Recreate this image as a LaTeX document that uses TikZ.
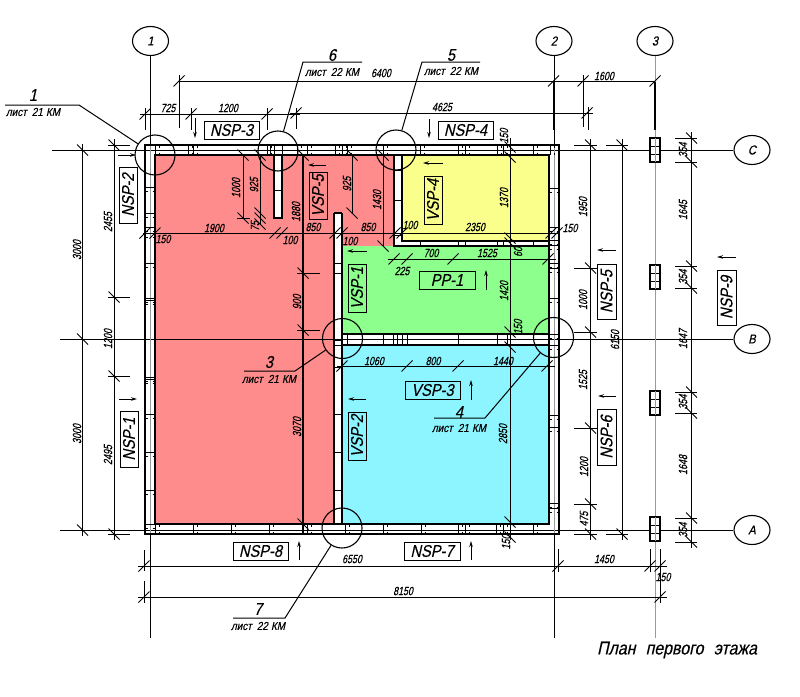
\documentclass[tikz,border=0pt]{standalone}
\usepackage{fontspec}
\usetikzlibrary{shapes.geometric,arrows.meta}
\newfontfamily\cadfont[FakeStretch=0.74,FakeSlant=0.22,FakeBold=0.25]{Liberation Sans}
\newfontfamily\cadwide[FakeStretch=0.86,FakeSlant=0.22,FakeBold=0.25]{Liberation Sans}
\definecolor{redz}{HTML}{FF8C8C}
\definecolor{yelz}{HTML}{FAFF8C}
\definecolor{grnz}{HTML}{8CFF8C}
\definecolor{bluz}{HTML}{8CF5FF}
\newcounter{labn}
\tikzset{
  x=1pt,y=-1pt,
  ln/.style={line width=1pt,black},
  thick dim/.style={line width=1.1pt,black},
  wall/.style={line width=1.1pt,black},
  stud/.style={line width=0.9pt,black},
  axisg/.style={line width=0.9pt,black!40},
  axisk/.style={line width=0.9pt,black},
  tickm/.style={line width=1pt,black},
  dimt/.style={font=\cadfont\fontsize{12}{12}\selectfont,inner sep=0pt,text=black},
  reft/.style={font=\cadwide\fontsize{17}{17}\selectfont,inner sep=0pt},
  shtt/.style={font=\cadwide\fontsize{11.5}{11.5}\selectfont,inner sep=0pt},
  bubble/.style={draw,ellipse,line width=1.1pt,minimum width=36pt,minimum height=29pt,inner sep=0pt,font=\cadwide\fontsize{13}{13}\selectfont},
  detail/.style={draw,circle,line width=1.1pt,minimum size=40pt,inner sep=0pt},
  panel/.style={draw,line width=1pt,fill=none,inner sep=0pt,font=\cadwide\fontsize{17}{17}\selectfont},
  arw/.style={line width=1pt,-{Stealth[length=6pt,width=3.5pt]}},
}
\newcommand\hdim[3]{\stepcounter{labn}\node[dimt] (d\thelabn) at (#1,#2) {#3};}
\newcommand\vdim[3]{\stepcounter{labn}\node[dimt,rotate=90] (d\thelabn) at (#1,#2) {#3};}
\newcommand\htk[2]{\draw[tickm] (#1-5.5,#2+5.5) -- (#1+5.5,#2-5.5);}
\newcommand\vtk[2]{\draw[tickm] (#1-5.5,#2-5.5) -- (#1+5.5,#2+5.5);}
\newcommand\hpanel[5]{\node[panel,minimum width=#3 pt,minimum height=#4 pt] (p#5) at (#1,#2) {#5};}
\newcommand\vpanel[5]{\node[panel,rotate=90,minimum width=#4 pt,minimum height=#3 pt] (p#5) at (#1,#2) {#5};}
\begin{document}
\begin{tikzpicture}
\useasboundingbox (0,0) rectangle (800,696);
\fill[white] (0,0) rectangle (800,696);
% colour zones
\fill[redz] (155,155) -- (394,155) -- (394,246) -- (342,246) -- (342,524) -- (155,524) -- cycle;
\fill[yelz] (402,155) rectangle (549,241);
\fill[grnz] (342,246) rectangle (549,334);
\fill[bluz] (342,345) rectangle (549,524);
% bubbles and axes
\node[bubble] (bC) at (752,150) {C};
\node[bubble] (bB) at (752,339) {B};
\node[bubble] (bA) at (752,530) {A};
\node[bubble] (b1) at (150.5,41) {1};
\node[bubble] (b2) at (554,41) {2};
\node[bubble] (b3) at (655,41) {3};
\coordinate (axC) at (52,150); \coordinate (axB) at (60,339); \coordinate (axA) at (60,530);
\coordinate (ax1) at (150.5,638); \coordinate (ax2) at (554,638); \coordinate (ax3) at (655,638);
% walls (white body)
\fill[white] (145,145) rectangle (155,534);
\fill[white] (145,145) rectangle (559,155);
\fill[white] (549,145) rectangle (559,534);
\fill[white] (145,524) rectangle (559,534);
\fill[white] (334,213) rectangle (342,534);
\fill[white] (342,334) rectangle (549,345);
\fill[white] (394,145) rectangle (402,246);
\fill[white] (394,241) rectangle (549,246);
\fill[white] (274,145) rectangle (282,218);
\draw[axisk] (axC) -- (bC);
\draw[axisk] (axB) -- (bB);
\draw[axisk] (axA) -- (bA);
\draw[axisg] (b1) -- (ax1);
\draw[axisg] (b2) -- (ax2);
\draw[axisg] (b3) -- (ax3);
\draw[axisk] (150.5,56) -- (150.5,145) (150.5,534) -- (ax1);
\draw[axisk] (554,145) -- (554,56) (554,534) -- (ax2);
\draw[thick dim,line width=1.3pt] (554,82) -- (554,130);
\draw[thick dim,line width=1.3pt] (655,82) -- (655,130);
% wall outlines
\draw[wall] (145,145) rectangle (559,534);
\draw[wall] (155,155) -- (155,524) -- (549,524) -- (549,155) -- cycle;
\draw[wall] (334,213) -- (334,524);
\draw[wall] (342,213) -- (342,524);
\draw[wall] (334,213) -- (342,213);
\draw[wall] (342,334) -- (549,334) (342,345) -- (549,345);
\draw[wall] (394,155) -- (394,246) -- (549,246);
\draw[wall] (402,155) -- (402,241) -- (549,241);
\draw[wall] (274,155) -- (274,218) -- (282,218) -- (282,155);
\draw[stud] (274,145) -- (274,155) (282,145) -- (282,155);
\draw[stud] (274,190) -- (282,190);
% studs in the walls
\foreach \y in {187,213,227,233,263,298,300,377,379,414,452,490,524}
  \draw[stud] (145,\y) -- (155,\y) (145,\y+4) -- (147.5,\y+4) (152.5,\y+4) -- (155,\y+4);
\foreach \x in {155,188,193,267,270,297,307,335,342,347,383,420,458,465,497,503,533,550}
  \draw[stud] (\x,145) -- (\x,155) (\x+4,145) -- (\x+4,147.5) (\x+4,152.5) -- (\x+4,155);
\foreach \x in {155,193,231,269,307,345,383,421,458,465,496,503,533}
  \draw[stud] (\x,524) -- (\x,534) (\x+4,524) -- (\x+4,526.5) (\x+4,531.5) -- (\x+4,534);
\foreach \y in {188,227,240,245,263,268,298,334,345,415,427,503,508}
  \draw[stud] (549,\y) -- (559,\y) (549,\y+4) -- (551.5,\y+4) (556.5,\y+4) -- (559,\y+4);
\foreach \y in {263,273,340,345,367,414,452,490}
  \draw[stud] (334,\y) -- (342,\y);
\foreach \x in {347,383,393,397,402,407,458,497,507}
  \draw[stud] (\x,334) -- (\x,345);
\foreach \x in {420,458,465,497,503,533}
  \draw[stud] (\x,241) -- (\x,246);
\foreach \y in {170,200,235} \draw[stud] (394,\y) -- (402,\y);
% small columns on axis 3
\foreach \c/\t in {a/138,b/265,c/391,d/517}{
  \draw[wall,fill=white] (650,\t) rectangle (660,\t+24);
  \draw[stud] (650,\t+8) -- (660,\t+8) (650,\t+16) -- (660,\t+16);
  \draw[axisg] (655,\t) -- (655,\t+24);
}
% ---------- dimensions top
\draw[ln] (179,81) -- (655,81);
\draw[ln] (179,75) -- (179,128) (583,75) -- (583,127);
\htk{179}{81}\htk{553.5}{81}\htk{583}{81}\htk{655}{81}
\hdim{381}{73}{6400}\hdim{604}{76}{1600}
\draw[ln] (140,114) -- (300,114);
\draw[ln] (145,108) -- (145,130) (191,108) -- (191,130) (267,108) -- (267,130);
\htk{145}{114}\htk{191}{114}\htk{267}{114}
\hdim{168}{108}{725}\hdim{228}{108}{1200}
\draw[ln] (290,113) -- (593,113);
\draw[ln] (296,108) -- (296,129) (588,107) -- (588,130);
\htk{296}{113}\htk{587}{113}
\hdim{442}{107}{4625}
% ---------- dimensions left
\draw[thick dim] (82.5,144) -- (82.5,536);
\vtk{82.5}{150}\vtk{82.5}{339}\vtk{82.5}{530}
\vdim{77}{250}{3000}\vdim{77}{434}{3000}
\draw[ln] (114,139) -- (114,540);
\draw[ln] (108,145) -- (130,145) (108,297) -- (130,297) (108,376) -- (130,376) (108,534) -- (130,534);
\vtk{114}{145}\vtk{114}{297}\vtk{114}{376}\vtk{114}{534}
\vdim{108}{222}{2455}\vdim{108}{339}{1200}\vdim{108}{455}{2495}
% ---------- dimensions bottom
\draw[ln] (138,566) -- (667,566);
\draw[ln] (144,550) -- (144,571) (558,549) -- (558,572) (650,549) -- (650,572) (660,549) -- (660,603);
\htk{144}{566}\htk{558}{566}\htk{650}{566}\htk{660}{566}
\hdim{352}{559}{6550}\hdim{604}{559}{1450}\hdim{663}{577}{150}
\draw[ln] (138,597) -- (667,597);
\draw[ln] (144,581) -- (144,603);
\htk{144}{597}\htk{660}{597}
\hdim{403}{591}{8150}
% ---------- dimensions right
\draw[ln] (590.5,139) -- (590.5,540);
\draw[ln] (574,145) -- (597,145) (574,268) -- (597,268) (574,332) -- (597,332) (574,428) -- (597,428) (574,504) -- (597,504) (574,534) -- (597,534);
\vtk{590.5}{145}\vtk{590.5}{268}\vtk{590.5}{332}\vtk{590.5}{428}\vtk{590.5}{504}\vtk{590.5}{534}
\vdim{583}{207}{1950}\vdim{583}{300}{1000}\vdim{583}{380}{1525}\vdim{584}{467}{1200}\vdim{584}{519}{475}
\draw[ln] (622,139) -- (622,540);
\draw[ln] (606,145) -- (628,145) (606,534) -- (628,534);
\vtk{622}{145}\vtk{622}{534}
\vdim{615}{340}{6150}
\draw[ln] (691.5,132) -- (691.5,548);
\foreach \y in {138,162,266,288,392,413,518,542}{
  \draw[ln] (675,\y) -- (697,\y);
  \vtk{691.5}{\y}
}
\vdim{683}{150}{354}\vdim{683}{210}{1645}\vdim{683}{277}{354}\vdim{683}{339}{1647}\vdim{683}{402}{354}\vdim{683}{465}{1648}\vdim{683}{530}{354}
% ---------- inner dimensions
\draw[ln] (243,155) -- (243,218); \draw[ln] (237,218) -- (250,218);
\vtk{243}{155}\vtk{243}{218}
\vdim{236}{188}{1000}
\draw[ln] (260,155) -- (260,224);
\vtk{260}{155}\vtk{260}{213}\vtk{260}{218}\vtk{260}{224}
\vdim{254}{185}{925}\vdim{255}{226}{75}
\draw[ln] (143,233) -- (560,233);
\foreach \x in {145,155,275,282,335,342,395,402,551,557}{\htk{\x}{233}}
\hdim{163}{239}{150}\hdim{214}{228}{1900}\hdim{290}{240}{100}\hdim{313}{227}{850}\hdim{350}{241}{100}\hdim{368}{227}{850}\hdim{410}{225}{100}\hdim{475}{227}{2350}\hdim{570}{228}{150}
\draw[thick dim] (303,155) -- (303,534);
\draw[ln] (297,273) -- (320,273) (297,330) -- (320,330);
\vtk{303}{155}\vtk{303}{273}\vtk{303}{330}\vtk{303}{524}
\vdim{296}{212}{1880}\vdim{297}{302}{900}\vdim{297}{427}{3070}
\draw[ln] (352,155) -- (352,213);
\vtk{352}{155}\vtk{352}{213}
\vdim{347}{184}{925}
\draw[ln] (383,155) -- (383,246);
\vtk{383}{155}\vtk{383}{246}
\vdim{377}{200}{1430}
\draw[ln] (510,138) -- (510,540);
\foreach \y in {147,157,238,243,332,347,522,537}{\vtk{510}{\y}}
\vdim{504}{136}{150}\vdim{504}{198}{1370}\vdim{518}{252}{60}\vdim{504}{291}{1420}\vdim{518}{327}{150}\vdim{503}{434}{2850}\vdim{506}{542}{150}
\draw[ln] (388,259) -- (556,259);
\htk{394}{259}\htk{407}{259}\htk{453}{259}\htk{548}{259}
\hdim{402}{271}{225}\hdim{431}{253}{700}\hdim{487}{253}{1525}
\draw[ln] (337,366) -- (555,366);
\htk{342}{366}\htk{407}{366}\htk{458}{366}\htk{547}{366}
\hdim{374}{361}{1060}\hdim{433}{361}{800}\hdim{503}{361}{1440}
% ---------- panels and direction arrows
\hpanel{231.5}{130}{55}{18}{NSP-3}
\draw[arw] (195,118) -- (195,138);
\hpanel{465.5}{130}{55}{18}{NSP-4}
\draw[arw] (429,119) -- (429,138);
\hpanel{260.5}{551}{55}{18}{NSP-8}
\draw[arw] (299,560) -- (299,541);
\hpanel{432}{551}{56}{18}{NSP-7}
\draw[arw] (471,560) -- (471,541);
\vpanel{128}{195}{18}{56}{NSP-2}
\draw[arw] (118,155) -- (136,155);
\vpanel{129}{439}{18}{56}{NSP-1}
\draw[arw] (119,399) -- (137,399);
\vpanel{606.5}{291.5}{19}{55}{NSP-5}
\draw[arw] (616,250) -- (597,250);
\vpanel{606.5}{437}{19}{56}{NSP-6}
\draw[arw] (616,396) -- (598,396);
\vpanel{726.5}{297.5}{19}{55}{NSP-9}
\draw[arw] (736,257) -- (717,257);
\vpanel{318}{195.5}{18}{47}{VSP-5}
\draw[arw] (326,165) -- (308,165);
\vpanel{433}{200}{18}{48}{VSP-4}
\draw[arw] (443,163) -- (423,163);
\vpanel{357}{288}{18}{48}{VSP-1}
\draw[arw] (367,251) -- (347,251);
\vpanel{357}{436}{18}{48}{VSP-2}
\draw[arw] (366,399) -- (348,399);
\hpanel{447}{280}{56}{18}{PP-1}
\draw[arw] (486,290) -- (486,270);
\hpanel{432.5}{390}{55}{18}{VSP-3}
\draw[arw] (471,400) -- (471,380);
% ---------- detail circles and leaders
\node[detail] (c1) at (155,155) {};
\node[detail] (c6) at (278,151) {};
\node[detail] (c5) at (396,150) {};
\node[detail] (c3) at (342.5,338.5) {};
\node[detail] (c4) at (553.5,337.5) {};
\node[detail] (c7) at (342,528) {};
\coordinate (l1a) at (5,105); \coordinate (l1b) at (79,105);
\coordinate (l6a) at (362,62); \coordinate (l6b) at (303,62);
\coordinate (l5a) at (480,62); \coordinate (l5b) at (422,62);
\coordinate (l3a) at (244,371); \coordinate (l3b) at (295,371);
\coordinate (l4a) at (434,418); \coordinate (l4b) at (485,418);
\coordinate (l7a) at (233,618); \coordinate (l7b) at (285,618);
\draw[ln] (l1a) -- (l1b) -- (c1);
\draw[ln] (l6a) -- (l6b) -- (c6);
\draw[ln] (l5a) -- (l5b) -- (c5);
\draw[ln] (l3a) -- (l3b) -- (c3);
\draw[ln] (l4a) -- (l4b) -- (c4);
\draw[ln] (l7a) -- (l7b) -- (c7);
\node[reft] (n1) at (33,95) {1};   \node[shtt] (s1) at (33,112) {лист\;\,21\;КМ};
\node[reft] (n6) at (332,55) {6};  \node[shtt] (s6) at (332,72) {лист\;\,22\;КМ};
\node[reft] (n5) at (451,55) {5};  \node[shtt] (s5) at (451,71) {лист\;\,22\;КМ};
\node[reft] (n3) at (269,362) {3}; \node[shtt] (s3) at (269,379) {лист\;\,21\;КМ};
\node[reft] (n4) at (459,412) {4}; \node[shtt] (s4) at (459,428) {лист\;\,21\;КМ};
\node[reft] (n7) at (258,609) {7}; \node[shtt] (s7) at (258,626) {лист\;\,22\;КМ};
\node[font=\cadwide\fontsize{18.5}{18.5}\selectfont,inner sep=0pt] (title) at (677,650) {План\;\;первого\;\;этажа};
\end{tikzpicture}
\end{document}
